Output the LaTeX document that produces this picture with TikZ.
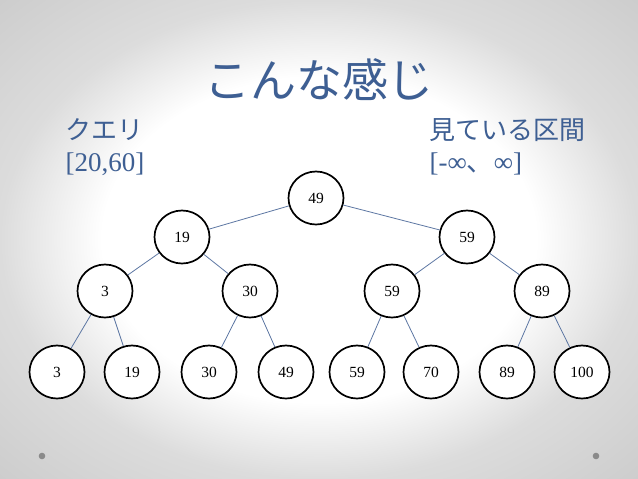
\documentclass[tikz,border=0pt]{standalone}
\usepackage{fontspec}
\setmainfont{Liberation Serif}
\newfontfamily\cjk{Noto Sans CJK JP}
\usetikzlibrary{shapes.geometric}
\definecolor{slateblue}{HTML}{3E5F93}
\definecolor{edgeblue}{HTML}{5D77A3}
\definecolor{slidegrey}{HTML}{DCDCDC}
\definecolor{cornergrey}{HTML}{CCCCCC}
\definecolor{dotgrey}{HTML}{8A8A8A}
\pgfdeclareradialshading{slidebg}{\pgfpoint{0bp}{0bp}}{%
  color(0bp)=(white); color(17bp)=(white); color(25bp)=(slidegrey);
  color(36bp)=(cornergrey); color(50bp)=(cornergrey)}
\tikzset{
  vnode/.style={ellipse, draw=black, line width=1.7pt, fill=white,
    minimum width=55pt, minimum height=53pt, inner sep=0pt,
    font=\fontsize{15.5}{18}\selectfont},
  tedge/.style={draw=edgeblue, line width=0.8pt},
  label/.style={anchor=west, text=slateblue, font=\fontsize{27}{32}\selectfont},
  cjklabel/.style={label, font=\cjk\fontsize{26}{30}\selectfont},
}

\begin{document}
\begin{tikzpicture}[x=1pt, y=-1pt]
\shade[shading=slidebg] (0,0) rectangle (638,479);
\useasboundingbox (0,0) rectangle (638,479);
\fill[dotgrey] (42,456) circle (3.3);
\fill[dotgrey] (596,456) circle (3.3);

\node[text=slateblue, font=\cjk\fontsize{46}{52}\selectfont] (title) at (319,80) {こんな感じ};
\node[cjklabel] (qlabel) at (62,130) {クエリ};
\node[label] (query) at (62,164) {[20,60]};
\node[cjklabel] (rlabel) at (426,130) {見ている区間};
\node[label] (range) at (426,164) {[-∞{\cjk 、}∞]};

% tree
\node[vnode] (t1) at (316,198) {49};
\node[vnode] (t2) at (182,237) {19};
\node[vnode] (t3) at (467,237) {59};
\node[vnode] (t4) at (105,291) {3};
\node[vnode] (t5) at (250,291) {30};
\node[vnode] (t6) at (392,291) {59};
\node[vnode] (t7) at (542,291) {89};
\node[vnode] (t8) at (57,372) {3};
\node[vnode] (t9) at (132,372) {19};
\node[vnode] (t10) at (209,372) {30};
\node[vnode] (t11) at (286,372) {49};
\node[vnode] (t12) at (357,372) {59};
\node[vnode] (t13) at (431,372) {70};
\node[vnode] (t14) at (507,372) {89};
\node[vnode] (t15) at (582,372) {100};

\draw[tedge] (t1) -- (t2);
\draw[tedge] (t1) -- (t3);
\draw[tedge] (t2) -- (t4);
\draw[tedge] (t2) -- (t5);
\draw[tedge] (t3) -- (t6);
\draw[tedge] (t3) -- (t7);
\draw[tedge] (t4) -- (t8);
\draw[tedge] (t4) -- (t9);
\draw[tedge] (t5) -- (t10);
\draw[tedge] (t5) -- (t11);
\draw[tedge] (t6) -- (t12);
\draw[tedge] (t6) -- (t13);
\draw[tedge] (t7) -- (t14);
\draw[tedge] (t7) -- (t15);
\end{tikzpicture}
\end{document}
